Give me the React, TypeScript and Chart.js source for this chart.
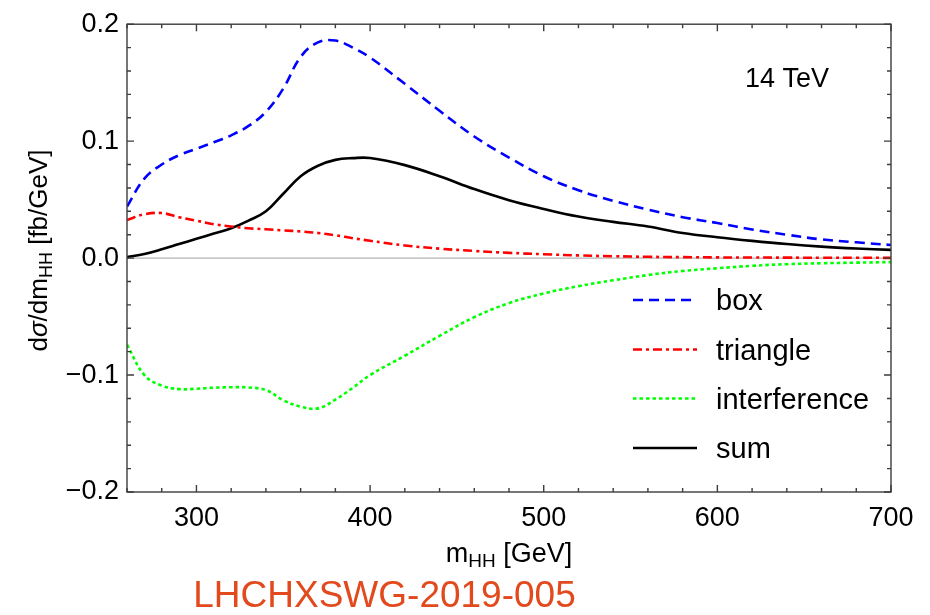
import React, { useEffect, useRef } from "react";
import { Chart, registerables } from "chart.js";

Chart.register(...registerables);

// Di-Higgs invariant-mass distribution at 14 TeV: box, triangle, interference and total.
const massGeV = [
  260, 270, 280, 290, 300, 310, 320, 330, 340, 350, 360, 370, 380, 390, 400,
  420, 440, 460, 480, 500, 520, 540, 560, 580, 600, 620, 640, 660, 680, 700,
];

const boxValues = [
  0.044, 0.068, 0.08, 0.088, 0.0935, 0.099, 0.105, 0.113, 0.125, 0.145, 0.172, 0.1845, 0.186, 0.18, 0.1715,
  0.149, 0.126, 0.104, 0.086, 0.07, 0.058, 0.049, 0.0415, 0.035, 0.03, 0.0245, 0.02, 0.016, 0.0135, 0.0112,
];

const triangleValues = [
  0.0325, 0.0375, 0.0385, 0.035, 0.032, 0.029, 0.027, 0.0255, 0.0247, 0.0237, 0.0228, 0.0215, 0.0195, 0.017, 0.0148,
  0.0108, 0.0081, 0.0061, 0.0045, 0.0033, 0.0023, 0.0016, 0.0011, 0.0008, 0.0006, 0.0005, 0.0004, 0.0003, 0.0003, 0.0002,
];

const interferenceValues = [
  -0.074, -0.1, -0.109, -0.112, -0.1117, -0.1108, -0.1104, -0.1106, -0.1128, -0.1215, -0.127, -0.1285, -0.121, -0.111, -0.1,
  -0.0835, -0.0665, -0.0505, -0.0385, -0.0302, -0.024, -0.019, -0.0145, -0.011, -0.0087, -0.0066, -0.0052, -0.0044, -0.0039, -0.0034,
];

const sumValues = [
  0.0008, 0.0035, 0.0075, 0.012, 0.0165, 0.021, 0.0255, 0.032, 0.04, 0.055, 0.07, 0.079, 0.084, 0.0855, 0.0856,
  0.0795, 0.07, 0.059, 0.0495, 0.042, 0.0355, 0.031, 0.027, 0.0215, 0.0178, 0.0147, 0.012, 0.0098, 0.0082, 0.007,
];

const seriesLabels = ["box", "triangle", "interference", "sum"];

// Axis ranges and tick marks
const xRange = [260, 700];
const yRange = [-0.2, 0.2];
const xMajorTicks = [300, 400, 500, 600, 700];
const yMajorTicks = [-0.2, -0.1, 0, 0.1, 0.2];
const xMinorStep = 20;
const yMinorStep = 0.02;

const energyLabel = "14 TeV";
const refLabel = "LHCHXSWG-2019-005";

const FAMILY = "'Liberation Sans', Arial, Helvetica, sans-serif";
const font = (size: number, style = "") => `${style} ${size}px ${FAMILY}`.trim();

const xTickPositions: number[] = [];
for (let i = 0; xRange[0] + i * xMinorStep <= xRange[1] + 1e-9; i++) xTickPositions.push(xRange[0] + i * xMinorStep);
const yTickPositions: number[] = [];
for (let i = 0; yRange[0] + i * yMinorStep <= yRange[1] + 1e-9; i++)
  yTickPositions.push(Math.round((yRange[0] + i * yMinorStep) * 1000) / 1000);

const isXMajor = (v: number) => xMajorTicks.some((t) => Math.abs(t - v) < 1e-6);
const isYMajor = (v: number) => yMajorTicks.some((t) => Math.abs(t - v) < 1e-6);
const fmtY = (v: number) => (v < -1e-9 ? "\u2212" + Math.abs(v).toFixed(1) : Math.abs(v).toFixed(1));

type Run = { text: string; font: string; dy?: number };

function drawRuns(ctx: CanvasRenderingContext2D, runs: Run[], x: number, y: number, align: "left" | "center") {
  const widths = runs.map((r) => {
    ctx.font = r.font;
    return ctx.measureText(r.text).width;
  });
  const total = widths.reduce((a, b) => a + b, 0);
  let cx = align === "center" ? x - total / 2 : x;
  ctx.textAlign = "left";
  ctx.textBaseline = "alphabetic";
  runs.forEach((r, i) => {
    ctx.font = r.font;
    ctx.fillText(r.text, cx, y + (r.dy || 0));
    cx += widths[i];
  });
}

const decorPlugin = {
  id: "decor",
  beforeDatasetsDraw(chart: any) {
    const { ctx, chartArea, scales } = chart;
    const y0 = scales.y.getPixelForValue(0);
    ctx.save();
    ctx.strokeStyle = "#b4b4b4";
    ctx.lineWidth = 1.3;
    ctx.beginPath();
    ctx.moveTo(chartArea.left, y0);
    ctx.lineTo(chartArea.right, y0);
    ctx.stroke();
    ctx.restore();
  },
  afterDatasetsDraw(chart: any) {
    const { ctx, chartArea, scales } = chart;
    const { left, right, top, bottom } = chartArea;
    ctx.save();

    // frame with inward ticks on all four sides
    ctx.strokeStyle = "#3c3c3c";
    ctx.lineWidth = 1.4;
    ctx.strokeRect(left, top, right - left, bottom - top);
    ctx.beginPath();
    xTickPositions.forEach((v) => {
      const px = scales.x.getPixelForValue(v);
      const len = isXMajor(v) ? 7 : 4;
      ctx.moveTo(px, bottom);
      ctx.lineTo(px, bottom - len);
      ctx.moveTo(px, top);
      ctx.lineTo(px, top + len);
    });
    yTickPositions.forEach((v) => {
      const py = scales.y.getPixelForValue(v);
      const len = isYMajor(v) ? 7 : 4;
      ctx.moveTo(left, py);
      ctx.lineTo(left + len, py);
      ctx.moveTo(right, py);
      ctx.lineTo(right - len, py);
    });
    ctx.stroke();

    ctx.fillStyle = "#000";

    // energy label
    ctx.font = font(27);
    ctx.textAlign = "left";
    ctx.textBaseline = "alphabetic";
    ctx.fillText(energyLabel, 745, 87);

    // legend
    const rowY = [300, 349.5, 398.5, 448];
    chart.data.datasets.forEach((ds: any, i: number) => {
      const yy = rowY[i];
      ctx.save();
      ctx.strokeStyle = ds.borderColor;
      ctx.lineWidth = ds.borderWidth;
      ctx.setLineDash(ds.borderDash || []);
      ctx.beginPath();
      ctx.moveTo(633, yy);
      ctx.lineTo(697, yy);
      ctx.stroke();
      ctx.restore();
      ctx.font = font(29);
      ctx.textAlign = "left";
      ctx.textBaseline = "alphabetic";
      ctx.fillText(ds.label, 716, yy + 10);
    });

    // x-axis title
    const cx = (left + right) / 2;
    drawRuns(
      ctx,
      [
        { text: "m", font: font(27) },
        { text: "HH", font: font(19), dy: 5 },
        { text: " [GeV]", font: font(27) },
      ],
      cx,
      562,
      "center"
    );

    // y-axis title (rotated)
    ctx.save();
    ctx.translate(46.5, 250.5);
    ctx.rotate(-Math.PI / 2);
    drawRuns(
      ctx,
      [
        { text: "d", font: font(26) },
        { text: "\u03C3", font: font(26, "italic") },
        { text: "/dm", font: font(26) },
        { text: "HH", font: font(18), dy: 5 },
        { text: " [fb/GeV]", font: font(26) },
      ],
      0,
      0,
      "center"
    );
    ctx.restore();

    // reference tag
    ctx.fillStyle = "#e2491c";
    ctx.font = font(37);
    ctx.textAlign = "center";
    ctx.textBaseline = "alphabetic";
    ctx.fillText(refLabel, 384.5, 607);

    ctx.restore();
  },
};

function series(label: string, values: number[], color: string, dash: number[]) {
  return {
    label,
    data: massGeV.map((m, i) => ({ x: m, y: values[i] })),
    borderColor: color,
    backgroundColor: color,
    borderWidth: 2.6,
    borderDash: dash,
    pointRadius: 0,
    fill: false,
    tension: 0.4,
  };
}

export default function App() {
  const canvasRef = useRef<HTMLCanvasElement | null>(null);

  useEffect(() => {
    const canvas = canvasRef.current;
    if (!canvas) return;
    const chart = new Chart(canvas, {
      type: "line",
      data: {
        datasets: [
          series(seriesLabels[0], boxValues, "#0000ff", [10, 6]),
          series(seriesLabels[1], triangleValues, "#ff0000", [9, 4, 3, 4]),
          series(seriesLabels[2], interferenceValues, "#00ff00", [3.5, 3]),
          series(seriesLabels[3], sumValues, "#000000", []),
        ],
      },
      options: {
        responsive: false,
        animation: false,
        devicePixelRatio: 1,
        layout: { padding: { top: 19, right: 39, left: 0, bottom: 0 } },
        plugins: { legend: { display: false }, tooltip: { enabled: false } },
        scales: {
          x: {
            type: "linear",
            min: xRange[0],
            max: xRange[1],
            grid: { display: false, drawTicks: false },
            border: { display: false },
            afterBuildTicks: (s: any) => {
              s.ticks = xTickPositions.map((v) => ({ value: v }));
            },
            afterFit: (s: any) => {
              s.height = 123;
            },
            ticks: {
              autoSkip: false,
              maxRotation: 0,
              padding: 10,
              color: "#000",
              font: { family: FAMILY, size: 27 },
              callback: (v: any) => (isXMajor(Number(v)) ? String(v) : ""),
            },
          },
          y: {
            type: "linear",
            min: yRange[0],
            max: yRange[1],
            grid: { display: false, drawTicks: false },
            border: { display: false },
            afterBuildTicks: (s: any) => {
              s.ticks = yTickPositions.map((v) => ({ value: v }));
            },
            afterFit: (s: any) => {
              s.width = 127;
            },
            ticks: {
              autoSkip: false,
              padding: 8,
              color: "#000",
              font: { family: FAMILY, size: 27 },
              callback: (v: any) => (isYMajor(Number(v)) ? fmtY(Number(v)) : ""),
            },
          },
        },
      },
      plugins: [decorPlugin],
    });
    return () => chart.destroy();
  }, []);

  return (
    <div style={{ position: "fixed", left: 0, top: 0, width: 930, height: 615, background: "#fff" }}>
      <canvas ref={canvasRef} width={930} height={615} style={{ width: 930, height: 615, display: "block" }} />
    </div>
  );
}
